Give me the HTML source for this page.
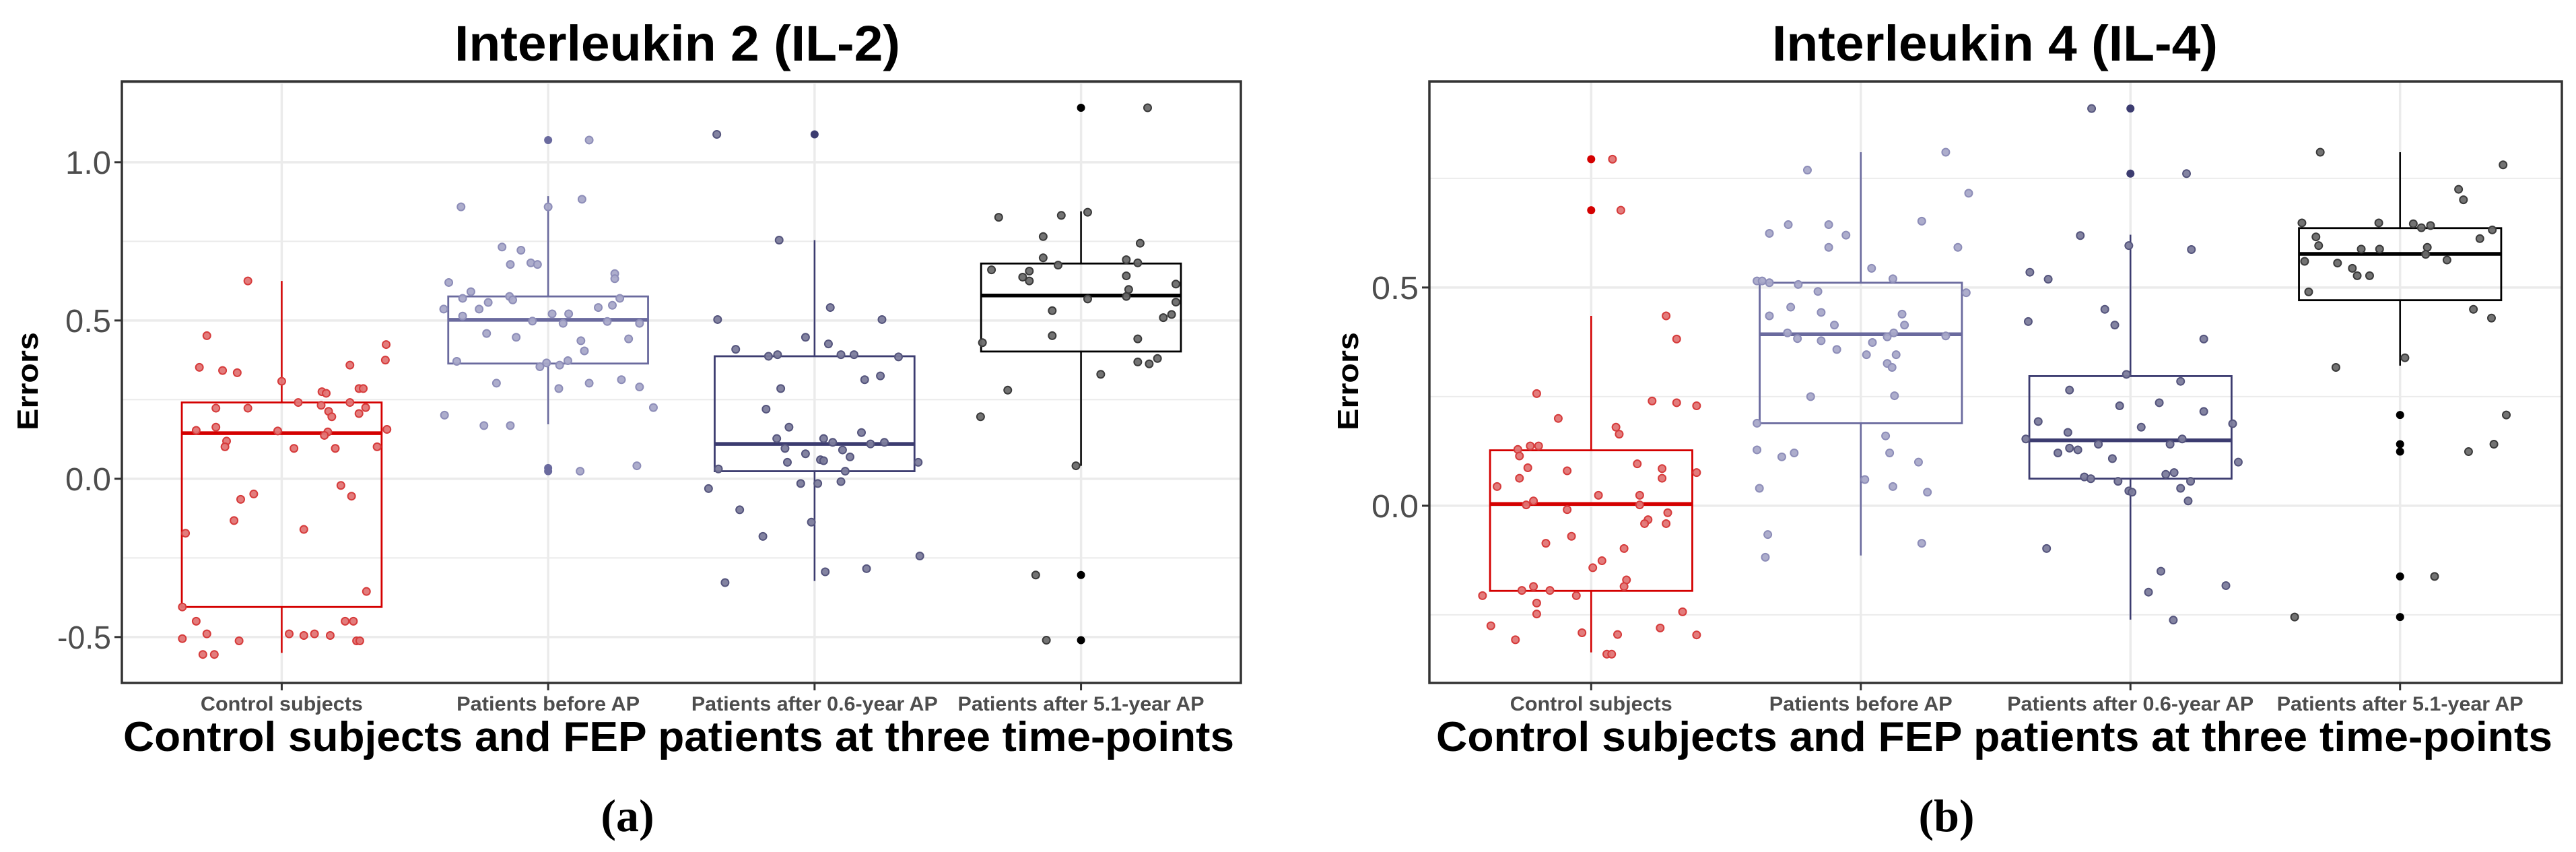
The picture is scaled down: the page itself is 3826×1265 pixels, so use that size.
<!DOCTYPE html>
<html><head><meta charset="utf-8"><style>
html,body{margin:0;padding:0;background:#fff;}
svg{display:block;}
</style></head>
<body>
<svg id="fig" xmlns="http://www.w3.org/2000/svg" width="3826" height="1265" viewBox="0 0 3826 1265"></svg>
<script>
const categories = ["Control subjects","Patients before AP","Patients after 0.6-year AP","Patients after 5.1-year AP"];

// IL-2 data
const il2Q1 = [-0.405, 0.364, 0.024, 0.402];
const il2Median = [0.144, 0.502, 0.110, 0.579];
const il2Q3 = [0.241, 0.576, 0.387, 0.680];
const il2WhiskerLow = [-0.550, 0.172, -0.323, 0.041];
const il2WhiskerHigh = [0.625, 0.893, 0.754, 0.845];
const il2Outliers = [[], [1.070, 0.024, 0.034], [1.088], [1.172, -0.304, -0.510]];
const il2Points = [
 [[-.127,.625],[-.281,.452],[-.309,.352],[-.222,.342],[-.167,.335],[0,.308],[.256,.359],[.389,.375],[.392,.424],[.151,.275],[.167,.270],[.290,.285],[.306,.285],[-.247,.223],[-.127,.223],[.062,.241],[.148,.232],[.256,.241],[.315,.225],[.176,.213],[.188,.196],[.290,.206],[-.321,.153],[-.247,.163],[-.015,.151],[.173,.148],[.160,.137],[.395,.156],[-.207,.119],[-.213,.101],[.046,.096],[.201,.096],[.358,.101],[.222,-.021],[.262,-.055],[-.105,-.048],[-.154,-.065],[-.179,-.132],[.083,-.160],[-.361,-.172],[-.373,-.405],[.318,-.356],[-.321,-.450],[-.281,-.490],[-.373,-.505],[-.160,-.512],[-.296,-.555],[-.253,-.555],[.028,-.490],[.083,-.495],[.123,-.490],[.182,-.495],[.238,-.450],[.269,-.450],[.281,-.512],[.293,-.512]],
 [[.154,1.070],[-.327,.859],[0,.859],[.127,.883],[-.173,.732],[-.102,.722],[-.142,.677],[-.065,.682],[-.040,.677],[.250,.648],[.250,.632],[-.373,.620],[-.290,.591],[-.321,.570],[-.145,.576],[-.133,.565],[-.225,.557],[-.259,.536],[-.392,.536],[-.321,.514],[.015,.521],[.077,.521],[.188,.541],[.241,.548],[.269,.570],[-.059,.498],[.056,.491],[.222,.497],[.343,.491],[-.231,.459],[-.120,.447],[.123,.436],[.136,.404],[.302,.442],[-.343,.371],[-.031,.354],[-.006,.366],[.043,.359],[.074,.373],[-.194,.302],[.040,.285],[.154,.302],[.275,.313],[.343,.290],[-.389,.201],[-.241,.168],[-.142,.168],[.395,.225],[.120,.024],[.333,.041]],
 [[-.367,1.088],[-.133,.754],[.059,.541],[-.364,.503],[.253,.503],[-.034,.447],[.052,.426],[-.296,.409],[-.173,.387],[-.139,.392],[.099,.392],[.148,.392],[.315,.385],[.188,.313],[.247,.325],[-.127,.285],[-.182,.220],[-.096,.163],[-.142,.127],[.034,.127],[.068,.115],[.176,.146],[.210,.110],[.262,.115],[-.111,.096],[.105,.091],[-.034,.079],[.133,.069],[.022,.060],[.034,.057],[-.102,.052],[.389,.052],[-.361,.031],[.115,.024],[-.398,-.031],[-.052,-.015],[.012,-.015],[.099,-.009],[-.281,-.098],[-.012,-.137],[-.194,-.182],[.395,-.244],[.195,-.284],[.040,-.294],[-.336,-.328]],
 [[.250,1.172],[.025,.842],[-.074,.832],[-.309,.826],[-.142,.765],[.222,.744],[-.142,.698],[.170,.692],[-.086,.675],[.213,.682],[-.336,.660],[-.194,.656],[-.219,.637],[-.194,.625],[.170,.641],[.356,.615],[.179,.598],[.025,.568],[.170,.576],[.356,.558],[-.108,.531],[.340,.519],[.309,.509],[-.108,.452],[.213,.442],[-.370,.430],[.287,.380],[.213,.369],[.256,.363],[.074,.330],[-.275,.280],[-.377,.196],[-.019,.041],[-.170,-.304],[-.130,-.510]]
];
const il2YTicks = [-0.5, 0.0, 0.5, 1.0];
const il2YTickLabels = ["-0.5","0.0","0.5","1.0"];

// IL-4 data
const il4Q1 = [-0.195, 0.189, 0.062, 0.471];
const il4Median = [0.004, 0.393, 0.150, 0.577];
const il4Q3 = [0.127, 0.511, 0.297, 0.636];
const il4WhiskerLow = [-0.336, -0.114, -0.261, 0.321];
const il4WhiskerHigh = [0.435, 0.810, 0.621, 0.810];
const il4Outliers = [[0.794, 0.677], [], [0.910, 0.761], [0.208, 0.141, 0.124, -0.162, -0.255]];
const il4Points = [
 [[.079,.794],[.110,.677],[.278,.435],[.317,.382],[-.202,.257],[.226,.240],[.317,.236],[.391,.229],[-.122,.200],[.092,.180],[.104,.164],[-.272,.129],[-.226,.137],[-.195,.137],[-.266,.114],[-.235,.087],[-.089,.080],[.171,.096],[.263,.085],[.263,.063],[.391,.076],[-.266,.063],[-.349,.044],[-.214,.011],[.027,.024],[.180,.024],[-.241,.002],[.180,.002],[-.089,-.009],[.284,-.016],[.211,-.032],[.198,-.041],[.278,-.041],[-.073,-.070],[-.168,-.086],[.122,-.098],[.040,-.126],[.006,-.142],[.131,-.170],[.122,-.185],[-.214,-.185],[-.257,-.194],[-.153,-.194],[-.403,-.206],[-.055,-.206],[-.202,-.223],[.339,-.243],[-.202,-.248],[-.372,-.275],[.256,-.280],[-.034,-.291],[.098,-.295],[.391,-.296],[-.281,-.307],[.058,-.340],[.076,-.340]],
 [[.315,.810],[-.198,.769],[.400,.716],[.226,.652],[-.269,.644],[-.119,.644],[-.339,.624],[-.055,.620],[-.119,.592],[.360,.592],[.040,.544],[-.385,.515],[-.366,.515],[-.339,.511],[-.232,.507],[.119,.520],[-.159,.491],[.391,.488],[-.260,.455],[-.147,.443],[.153,.439],[-.339,.435],[-.098,.414],[.162,.414],[.122,.396],[-.272,.396],[-.235,.383],[-.147,.378],[-.089,.358],[.098,.387],[.315,.389],[.043,.374],[.131,.346],[.021,.346],[.098,.326],[.116,.317],[-.186,.250],[.125,.252],[-.385,.189],[.092,.160],[-.385,.128],[-.247,.121],[-.293,.112],[.107,.121],[.214,.100],[.015,.060],[.119,.044],[-.376,.040],[.247,.031],[-.345,-.066],[.226,-.086],[-.354,-.118]],
 [[-.144,.910],[.208,.761],[-.186,.619],[-.006,.596],[.226,.587],[-.373,.535],[-.305,.519],[-.095,.450],[-.058,.414],[-.379,.422],[.272,.382],[-.015,.301],[.186,.285],[-.226,.265],[-.040,.229],[.107,.236],[.272,.216],[-.342,.193],[.379,.188],[.040,.180],[-.232,.168],[-.388,.153],[.192,.153],[-.119,.141],[.147,.141],[-.269,.121],[-.226,.132],[-.195,.128],[-.067,.108],[.400,.100],[.162,.076],[.131,.072],[-.171,.066],[-.147,.062],[-.046,.056],[.223,.056],[-.006,.034],[.006,.031],[.186,.040],[.214,.011],[-.311,-.098],[.113,-.150],[.067,-.198],[.354,-.183],[.159,-.262]],
 [[-.296,.810],[.382,.781],[.217,.725],[.235,.701],[-.364,.648],[-.079,.648],[.049,.646],[.113,.642],[.079,.637],[.342,.632],[-.312,.616],[.296,.612],[-.302,.596],[.101,.592],[-.144,.588],[-.076,.588],[.095,.576],[-.354,.560],[.174,.563],[-.232,.556],[-.177,.544],[-.159,.527],[-.113,.527],[-.339,.490],[.272,.450],[.339,.430],[.018,.339],[-.238,.317],[.394,.208],[.348,.141],[.254,.124],[.128,-.162],[-.391,-.255]]
];
const il4YTicks = [0.0, 0.5];
const il4YTickLabels = ["0.0","0.5"];

const lineColors = ["#d40000","#6a6a9e","#3c3c70","#000000"];
const pointFill = ["#e27575","#a9a9c9","#7c7c9c","#6b6b6b"];
const pointStroke = ["#d63b3b","#8d8db8","#55557d","#3a3a3a"];

const NS = "http://www.w3.org/2000/svg";
const svg = document.getElementById("fig");
function mk(tag, attrs, parent){
  const e = document.createElementNS(NS, tag);
  for (const k in attrs) e.setAttribute(k, attrs[k]);
  (parent||svg).appendChild(e);
  return e;
}

function drawPanel(p){
  const g = mk("g", {});
  
  
  const step = (p.right - p.left) / 4.2;
  const xs = i => p.left + step * (0.6 + i);
  const ys = v => p.top + (p.yMax - v) / (p.yMax - p.yMin) * (p.bottom - p.top);

  for (let i = 0; i < p.ticks.length + 1; i++) {
    const v = (i === 0 ? p.ticks[0] - p.tickStep/2 : p.ticks[i-1] + p.tickStep/2);
    if (v > p.yMin && v < p.yMax) {
      const l = mk("line", {x1:p.left, x2:p.right, y1:ys(v), y2:ys(v), stroke:"#ebebeb", "stroke-width":2}, g);
      
      
    }
  }
  p.ticks.forEach((v, i) => {
    const l = mk("line", {x1:p.left, x2:p.right, y1:ys(v), y2:ys(v), stroke:"#ebebeb", "stroke-width":3.5}, g);
    
    
    const t = mk("line", {x1:p.left-11, x2:p.left, y1:ys(v), y2:ys(v), stroke:"#333", "stroke-width":3}, g);
    
    
    const tx = mk("text", {x:p.left-16, y:ys(v)+17, "text-anchor":"end", "font-family":"Liberation Sans, sans-serif", "font-size":48, fill:"#4d4d4d", textLength:p.tickLabelLens[i], lengthAdjust:"spacingAndGlyphs"}, g);
    tx.textContent = p.tickLabels[i];
    
    
  });
  categories.forEach((c, i) => {
    const l = mk("line", {x1:xs(i), x2:xs(i), y1:p.top, y2:p.bottom, stroke:"#ebebeb", "stroke-width":3.5}, g);
    
    
    const t = mk("line", {x1:xs(i), x2:xs(i), y1:p.bottom, y2:p.bottom+11, stroke:"#333", "stroke-width":3}, g);
    
    
    const tx = mk("text", {x:xs(i), y:p.bottom+41, "text-anchor":"middle", "font-family":"Liberation Sans, sans-serif", "font-weight":"bold", "font-size":30, fill:"#4d4d4d", textLength:p.catLens[i], lengthAdjust:"spacingAndGlyphs"}, g);
    tx.textContent = c;
    
    
  });

  categories.forEach((c, i) => {
    const cx = xs(i), hw = step * 0.375, col = lineColors[i];
    const bg = mk("g", {}, g);
    
    
    mk("line", {x1:cx, x2:cx, y1:ys(p.q3[i]), y2:ys(p.wHi[i]), stroke:col, "stroke-width":2.5}, bg);
    mk("line", {x1:cx, x2:cx, y1:ys(p.q1[i]), y2:ys(p.wLo[i]), stroke:col, "stroke-width":2.5}, bg);
    mk("rect", {x:cx-hw, y:ys(p.q3[i]), width:2*hw, height:ys(p.q1[i])-ys(p.q3[i]), fill:"none", stroke:col, "stroke-width":2.8}, bg);
    mk("line", {x1:cx-hw, x2:cx+hw, y1:ys(p.med[i]), y2:ys(p.med[i]), stroke:col, "stroke-width":5.5}, bg);
    p.out[i].forEach(v => {
      const o = mk("circle", {cx:cx, cy:ys(v), r:6, fill:col}, bg);
      
      
    });
  });
  p.pts.forEach((arr, i) => {
    arr.forEach(pt => {
      const c = mk("circle", {cx:xs(i + pt[0]), cy:ys(pt[1]), r:5.5, fill:pointFill[i], "fill-opacity":0.95, stroke:pointStroke[i], "stroke-width":2}, g);
      
      
    });
  });

  const frame = mk("rect", {x:p.left, y:p.top, width:p.right-p.left, height:p.bottom-p.top, fill:"none", stroke:"#333", "stroke-width":3.5}, g);
  
  

  const title = mk("text", {x:p.titleX, y:90, "text-anchor":"middle", "font-family":"Liberation Sans, sans-serif", "font-weight":"bold", "font-size":74, fill:"#000", textLength:662, lengthAdjust:"spacingAndGlyphs"}, g);
  title.textContent = p.title;
  
  

  const xt = mk("text", {x:(p.left+p.right)/2 + p.xTitleShift, y:1115, "text-anchor":"middle", "font-family":"Liberation Sans, sans-serif", "font-weight":"bold", "font-size":62, fill:"#000", textLength:p.xTitleLen, lengthAdjust:"spacingAndGlyphs"}, g);
  xt.textContent = "Control subjects and FEP patients at three time-points";
  
  

  const yt = mk("text", {x:0, y:0, transform:"translate(" + p.yTitleX + ",566) rotate(-90)", "text-anchor":"middle", "font-family":"Liberation Sans, sans-serif", "font-weight":"bold", "font-size":44, fill:"#000", textLength:146, lengthAdjust:"spacingAndGlyphs"}, g);
  yt.textContent = "Errors";
  
  

  const cap = mk("text", {x:p.capX, y:1234, "text-anchor":"middle", "font-family":"Liberation Serif, serif", "font-weight":"bold", "font-size":68, fill:"#000"}, g);
  cap.textContent = p.caption;
  
  
}

drawPanel({name:"il2-panel", left:181, right:1843, top:121, bottom:1014, yMin:-0.645, yMax:1.255,
  ticks:il2YTicks, tickLabels:il2YTickLabels, tickStep:0.5, tickLabelLens:[80,68,68,68],
  q1:il2Q1, med:il2Median, q3:il2Q3, wLo:il2WhiskerLow, wHi:il2WhiskerHigh, out:il2Outliers, pts:il2Points,
  catLens:[241,272,366,366], title:"Interleukin 2 (IL-2)", titleX:1006, xTitleLen:1650, xTitleShift:-4,
  yTitleX:56, capX:932, caption:"(a)"});
drawPanel({name:"il4-panel", left:2123, right:3805, top:121, bottom:1014, yMin:-0.406, yMax:0.972,
  ticks:il4YTicks, tickLabels:il4YTickLabels, tickStep:0.5, tickLabelLens:[70,70],
  q1:il4Q1, med:il4Median, q3:il4Q3, wLo:il4WhiskerLow, wHi:il4WhiskerHigh, out:il4Outliers, pts:il4Points,
  catLens:[241,272,366,366], title:"Interleukin 4 (IL-4)", titleX:2963, xTitleLen:1658, xTitleShift:-2,
  yTitleX:2017, capX:2891, caption:"(b)"});
</script>
</body></html>
